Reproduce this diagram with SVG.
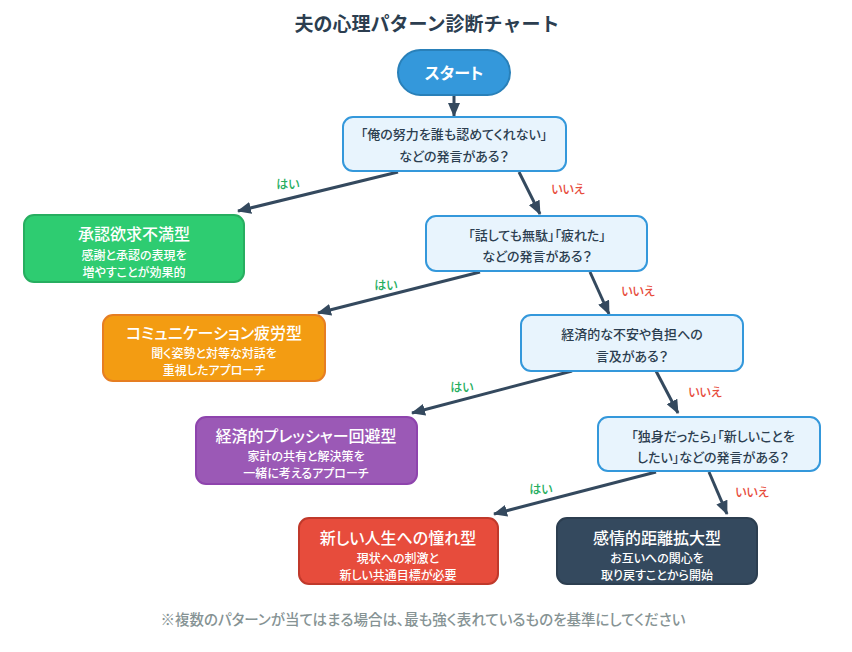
<svg xmlns="http://www.w3.org/2000/svg" width="852" height="652" viewBox="0 0 852 652">
<defs>
<marker id="arr" markerUnits="userSpaceOnUse" markerWidth="14" markerHeight="12" viewBox="0 0 14 12" refX="13" refY="6" orient="auto">
<path d="M0,0 L14,6 L0,12 z" fill="#34495e"/>
</marker>
</defs>
<style>
text{font-family:"Noto Sans CJK JP","Noto Sans",sans-serif;text-anchor:middle;dominant-baseline:central;font-feature-settings:"palt"}
.title{font-size:19px;font-weight:700;fill:#2c3e50;font-feature-settings:normal}
.q{fill:#e8f4fd;stroke:#3498db;stroke-width:2}
.qt{font-size:13px;font-weight:500;fill:#2c3e50}
.rt{font-size:16px;font-weight:500;fill:#fff}
.rs{font-size:12px;font-weight:500;fill:#fff}
.yes{font-size:12px;font-weight:500;fill:#27ae60}
.no{font-size:12px;font-weight:500;fill:#e74c3c}
.c{stroke:#34495e;stroke-width:3;fill:none;marker-end:url(#arr)}
.note{font-size:14.5px;font-weight:500;fill:#869394}
</style>
<rect width="852" height="652" fill="#ffffff"/>
<text class="title" x="427" y="22">夫の心理パターン診断チャート</text>

<g id="connectors">
<line class="c" x1="454" y1="95" x2="454" y2="116"/>
<line class="c" x1="398" y1="172" x2="238" y2="211"/>
<line class="c" x1="519" y1="172" x2="540" y2="214"/>
<line class="c" x1="480" y1="272" x2="318" y2="313"/>
<line class="c" x1="590" y1="272" x2="609" y2="314"/>
<line class="c" x1="572" y1="371" x2="412" y2="413"/>
<line class="c" x1="656" y1="371" x2="678" y2="413"/>
<line class="c" x1="656" y1="472" x2="494" y2="514"/>
<line class="c" x1="709" y1="472" x2="727" y2="514"/>
<text class="yes" x="288" y="183">はい</text>
<text class="no" x="568" y="188">いいえ</text>
<text class="yes" x="386" y="284">はい</text>
<text class="no" x="638" y="290">いいえ</text>
<text class="yes" x="462" y="386">はい</text>
<text class="no" x="705" y="391">いいえ</text>
<text class="yes" x="541" y="488">はい</text>
<text class="no" x="752" y="491">いいえ</text>
</g>

<g id="start">
<rect x="398" y="50" width="112" height="45" rx="22.5" fill="#3498db" stroke="#2980b9" stroke-width="2"/>
<text class="rt" x="454" y="72" style="font-weight:700">スタート</text>
</g>

<g id="q1">
<rect class="q" x="343" y="117" width="223" height="54" rx="10"/>
<text class="qt" x="454" y="133">「俺の努力を誰も認めてくれない」</text>
<text class="qt" x="454" y="155">などの発言がある？</text>
</g>

<g id="r1">
<rect x="24" y="215" width="220" height="67" rx="10" fill="#2ecc71" stroke="#27ae60" stroke-width="2"/>
<text class="rt" x="134" y="233">承認欲求不満型</text>
<text class="rs" x="134" y="254">感謝と承認の表現を</text>
<text class="rs" x="134" y="271">増やすことが効果的</text>
</g>

<g id="q2">
<rect class="q" x="426" y="216" width="221" height="55" rx="10"/>
<text class="qt" x="537" y="234">「話しても無駄」「疲れた」</text>
<text class="qt" x="537" y="255">などの発言がある？</text>
</g>

<g id="r2">
<rect x="103" y="315" width="222" height="66" rx="10" fill="#f39c12" stroke="#e67e22" stroke-width="2"/>
<text class="rt" x="214" y="332">コミュニケーション疲労型</text>
<text class="rs" x="214" y="352">聞く姿勢と対等な対話を</text>
<text class="rs" x="214" y="369">重視したアプローチ</text>
</g>

<g id="q3">
<rect class="q" x="521" y="315" width="222" height="56" rx="10"/>
<text class="qt" x="632" y="333">経済的な不安や負担への</text>
<text class="qt" x="632" y="355">言及がある？</text>
</g>

<g id="r3">
<rect x="196" y="417" width="221" height="67" rx="10" fill="#9b59b6" stroke="#8e44ad" stroke-width="2"/>
<text class="rt" x="306" y="435">経済的プレッシャー回避型</text>
<text class="rs" x="306" y="455">家計の共有と解決策を</text>
<text class="rs" x="306" y="472">一緒に考えるアプローチ</text>
</g>

<g id="q4">
<rect class="q" x="598" y="417" width="222" height="54" rx="10"/>
<text class="qt" x="713" y="435">「独身だったら」「新しいことを</text>
<text class="qt" x="713" y="456">したい」などの発言がある？</text>
</g>

<g id="r4">
<rect x="299" y="518" width="199" height="66" rx="10" fill="#e74c3c" stroke="#c0392b" stroke-width="2"/>
<text class="rt" x="398" y="537">新しい人生への憧れ型</text>
<text class="rs" x="398" y="557">現状への刺激と</text>
<text class="rs" x="398" y="574">新しい共通目標が必要</text>
</g>

<g id="r5">
<rect x="557" y="518" width="200" height="66" rx="10" fill="#34495e" stroke="#2c3e50" stroke-width="2"/>
<text class="rt" x="657" y="537">感情的距離拡大型</text>
<text class="rs" x="657" y="557">お互いへの関心を</text>
<text class="rs" x="657" y="574">取り戻すことから開始</text>
</g>

<text class="note" x="423" y="618">※複数のパターンが当てはまる場合は、最も強く表れているものを基準にしてください</text>
</svg>
